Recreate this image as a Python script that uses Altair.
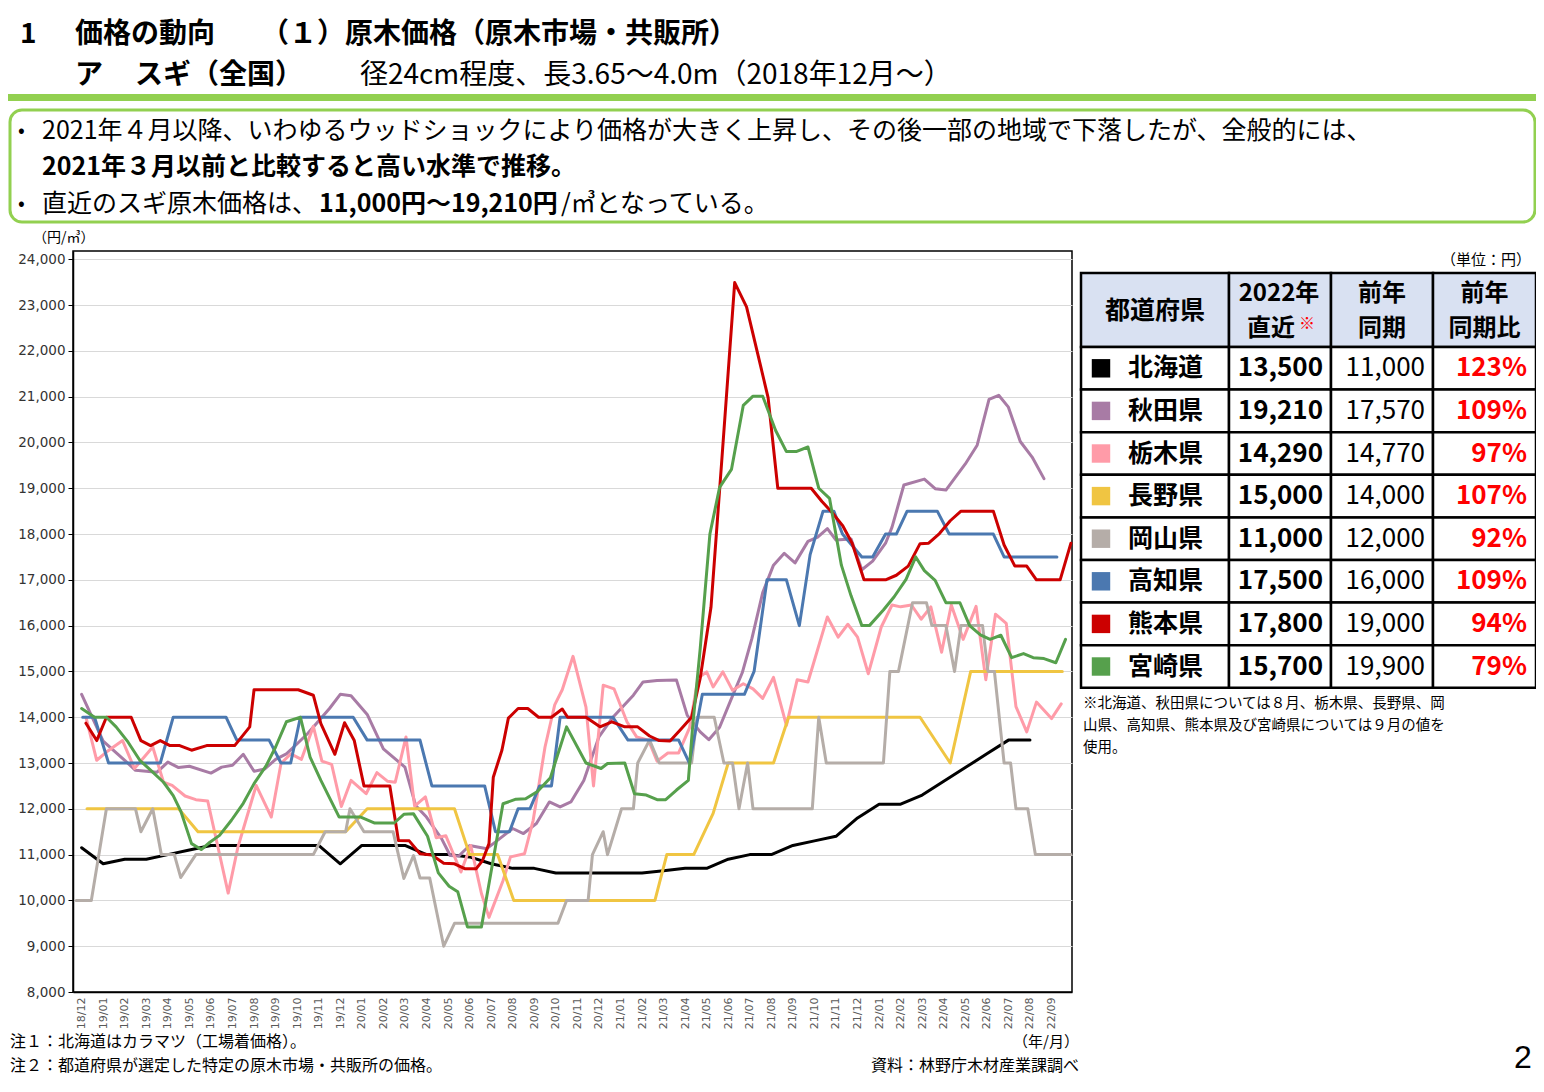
import altair as alt
import pandas as pd

JP = "Noto Sans CJK JP"
NUMF = "DejaVu Sans"

# ---------------- data ----------------
PREFS = ["北海道", "秋田県", "栃木県", "長野県", "岡山県", "高知県", "熊本県", "宮崎県"]
COLORS = ["#000000", "#A87BA5", "#FF9BA8", "#F0C542", "#B5ADA8", "#4B78B0", "#CC0000", "#56A04C"]

MONTH_LABELS = [
    "18/12",
    "19/01", "19/02", "19/03", "19/04", "19/05", "19/06", "19/07", "19/08", "19/09", "19/10", "19/11", "19/12",
    "20/01", "20/02", "20/03", "20/04", "20/05", "20/06", "20/07", "20/08", "20/09", "20/10", "20/11", "20/12",
    "21/01", "21/02", "21/03", "21/04", "21/05", "21/06", "21/07", "21/08", "21/09", "21/10", "21/11", "21/12",
    "22/01", "22/02", "22/03", "22/04", "22/05", "22/06", "22/07", "22/08", "22/09",
]

# t = months since 2018/12 (0 = 18/12)
HOKKAIDO_T = list(range(45))
HOKKAIDO_V = [11150, 10800, 10900, 10900, 11000, 11100, 11200, 11200, 11200, 11200, 11200, 11200, 10800,
              11200, 11200, 11200, 11000, 11000, 10950, 10800, 10700, 10700, 10600, 10600, 10600, 10600,
              10600, 10650, 10700, 10700, 10900, 11000, 11000, 11200, 11300, 11400, 11800, 12100, 12100,
              12300, 12600, 12900, 13200, 13500, 13500]

AKITA_T = [0, 1, 2, 2.5, 3.5, 4, 4.5, 5, 6, 6.5, 7, 7.5, 8, 8.5, 9, 9.5, 10, 10.5, 11.5, 12,
           12.5, 13.25, 14, 15, 15.5, 16, 16.7, 17.1, 17.5, 18, 18.8, 19.4, 20, 20.5, 21.1, 21.7, 22.2, 22.7, 23.3, 24,
           24.65, 25.6, 26.05, 26.7, 27.6, 28.1, 28.7, 29.1, 29.6, 30.1, 30.65, 31.1, 31.6, 32.1, 32.6, 33.1, 33.7,
           34.15, 34.6, 35, 35.7, 36.2, 36.7, 37.3, 37.6, 38.15, 39.1, 39.6, 40.1, 41, 41.55, 42.1, 42.55, 43,
           43.55, 44.1, 44.65]
AKITA_V = [14500, 13480, 13060, 12840, 12800, 13020, 12900, 12930, 12780, 12910, 12950, 13190, 12820, 12870,
           13080, 13200, 13420, 13650, 14190, 14500, 14470, 14060, 13310, 12910, 12070, 11820, 11350, 10980,
           10970, 11200, 11130, 11350, 11570, 11460, 11680, 12150, 12040, 12150, 12620, 13570, 14000, 14480,
           14770, 14800, 14810, 14040, 13680, 13510, 13780, 14350, 14970, 15720, 16720, 17320, 17580, 17370,
           17840, 17930, 18120, 17870, 17890, 17220, 17410, 17800, 18150, 19070, 19200, 18990, 18960, 19530,
           19940, 20940, 21030, 20770, 20020, 19680, 19210]

TOCHIGI_T = [0.2, 0.7, 1.15, 1.9, 2.45, 3.3, 3.8, 4.2, 4.8, 5.3, 5.85, 6.8, 7.25, 8.1, 8.8, 9.25, 9.7, 10.2,
             10.75, 11.15, 11.6, 12.05, 12.5, 13.2, 13.7, 14.2, 14.55, 15.05, 15.45, 15.95, 16.45, 16.9, 17.6,
             18.05, 18.55, 18.9, 19.55, 19.9, 20.55, 20.95, 21.5, 21.95, 22.3, 22.8, 23.4, 23.75, 24.2, 24.7,
             25.3, 25.75, 26.3, 26.7, 27.2, 27.7, 28.2, 28.6, 29, 29.3, 29.75, 30.2, 30.7, 31.15, 31.6, 32.1,
             32.7, 33.2, 33.7, 34.6, 35.1, 35.55, 36, 36.5, 37.1, 37.6, 38, 38.5, 38.95, 39.4, 39.9, 40.35,
             40.9, 41.5, 41.95, 42.4, 42.9, 43.35, 43.85, 44.3, 45, 45.45]
TOCHIGI_V = [14000, 13060, 13240, 13490, 12880, 13350, 12580, 12510, 12280, 12200, 12170, 10160, 11160, 12510,
             11820, 12990, 13200, 13080, 13800, 13040, 12970, 12050, 12620, 12330, 12790, 12600, 12580, 13570,
             12060, 12260, 11370, 11410, 10620, 11200, 10150, 9630, 10430, 10950, 11020, 11750, 13350, 14270,
             14600, 15330, 14220, 12500, 14700, 14620, 13900, 13570, 13500, 13040, 13220, 13220, 13760, 14850,
             14990, 14660, 14990, 14590, 14730, 14620, 14410, 14870, 13820, 14820, 14770, 16190, 15750, 16030,
             15750, 14950, 15970, 16450, 16410, 16450, 16140, 16410, 15420, 16450, 15700, 16420, 14820, 16250,
             16050, 14230, 13680, 14330, 13970, 14290]

NAGANO_T = [0.25, 4.5, 5.4, 12.25, 13.25, 17.3, 18, 19.3, 20.05, 26.6, 27.15, 28.4, 29.3, 30, 32.1, 32.8,
            38.9, 40.3, 41.25, 45.5]
NAGANO_V = [12000, 12000, 11500, 11500, 12000, 12000, 11000, 11000, 10000, 10000, 11000, 11000, 11900, 13000,
            13000, 14000, 14000, 13000, 15000, 15000]

OKAYAMA_T = [-0.25, 0.45, 1.15, 2.5, 2.75, 3.3, 3.7, 4.3, 4.6, 5.3, 10.75, 11.3, 12.25, 12.45, 13.1, 14.45,
             14.95, 15.4, 15.7, 16.15, 16.8, 17.3, 22.1, 22.5, 23.5, 23.7, 24.2, 24.4, 25.05, 25.6, 25.8, 26.35,
             26.8, 28.3, 28.55, 29.35, 29.8, 30.2, 30.5, 30.9, 31.15, 33.9, 34.2, 34.55, 37.2, 37.5, 37.9, 38.55,
             39.2, 39.45, 40.1, 40.5, 40.8, 41.8, 42.05, 42.35, 42.8, 43.1, 43.35, 43.9, 44.25, 45.9]
OKAYAMA_V = [10000, 10000, 12000, 12000, 11500, 12000, 11000, 11000, 10500, 11000, 11000, 11500, 11500, 12000,
             11500, 11500, 10480, 10980, 10490, 10490, 9000, 9500, 9500, 10000, 10000, 11000, 11500, 11000,
             12000, 12000, 13000, 13500, 13000, 13000, 14000, 14000, 13000, 13000, 12000, 13000, 12000, 12000,
             14000, 13000, 13000, 15000, 15000, 16500, 16500, 16000, 16000, 15000, 16000, 16000, 15000, 15000,
             13000, 13000, 12000, 12000, 11000, 11000]

KOCHI_T = [0.05, 0.6, 1.25, 3.65, 4.25, 6.7, 7.2, 8.7, 9.25, 9.7, 10.15, 12.6, 13.25, 15.7, 16.25, 18.7, 19.2,
           19.85, 20.25, 20.8, 21.25, 21.8, 22.2, 24.65, 25.35, 27.7, 28.2, 28.8, 30.75, 31.2, 31.8, 32.7, 33.3,
           33.8, 34.4, 34.9, 35.3, 36.2, 36.7, 37.3, 37.8, 38.3, 39.7, 40.25, 42.3, 42.8, 45.25]
KOCHI_V = [14000, 14000, 13000, 13000, 14000, 14000, 13500, 13500, 13000, 13000, 14000, 14000, 13500, 13500,
           12500, 12500, 11500, 11500, 12000, 12000, 12500, 12500, 14000, 14000, 13500, 13500, 13000, 14500,
           14500, 15000, 17000, 17000, 16000, 17550, 18500, 18500, 18000, 17500, 17500, 18000, 18000, 18500,
           18500, 18000, 18000, 17500, 17500]

KUMAMOTO_T = [0.2, 0.7, 1.15, 2.3, 2.75, 3.2, 3.65, 4.1, 4.55, 5.1, 5.8, 7.1, 7.8, 8, 10.05, 10.75, 11.1, 11.75,
              12.2, 12.65, 13.1, 14.3, 14.7, 15.2, 15.7, 16.25, 16.8, 17.3, 17.8, 18.3, 18.6, 18.9, 19.1, 19.5,
              19.8, 20.25, 20.7, 21.2, 21.8, 22.3, 22.55, 23.4, 24.05, 24.6, 25.2, 25.8, 26.35, 26.8, 27.3, 27.75,
              28.3, 28.7, 29.2, 29.7, 30.3, 30.85, 31.35, 31.85, 32.3, 33.85, 34.35, 34.8, 35.3, 35.75, 36.3,
              37.3, 37.8, 38.35, 38.9, 39.3, 39.8, 40.3, 40.8, 42.3, 42.8, 43.3, 43.85, 44.3, 45.4, 45.9]
KUMAMOTO_V = [13870, 13490, 14000, 14000, 13490, 13380, 13490, 13380, 13380, 13280, 13380, 13380, 13790, 14600,
              14600, 14480, 13860, 13190, 13880, 13490, 12500, 12500, 11310, 11300, 11020, 10990, 10810, 10800,
              10690, 10690, 10870, 11240, 12690, 13280, 13980, 14190, 14190, 14000, 14000, 14180, 14000, 14000,
              13790, 13900, 13790, 13790, 13590, 13490, 13480, 13710, 14000, 14850, 16400, 19600, 23490, 22960,
              21970, 20980, 19000, 19000, 18710, 18480, 18190, 17800, 17000, 17000, 17100, 17300, 17790, 17800,
              18010, 18290, 18500, 18500, 17760, 17300, 17300, 17000, 17000, 17800]

MIYAZAKI_T = [0, 0.6, 1.15, 1.6, 2.15, 2.7, 3.3, 3.8, 4.25, 4.6, 5.1, 5.55, 5.95, 6.4, 6.95, 7.5, 8, 8.55, 9, 9.5,
              10.15, 10.6, 11.1, 11.95, 12.95, 13.6, 14.5, 14.95, 15.4, 16.05, 16.55, 17.05, 17.45, 17.9, 18.55,
              19.55, 20.15, 20.6, 21.15, 21.75, 22.5, 23.4, 24.1, 24.4, 25.2, 25.65, 26.2, 26.7, 27.1, 27.6,
              28.15, 28.35, 28.7, 29.15, 29.6, 30.15, 30.7, 31.15, 31.6, 32.2, 32.7, 33.15, 33.7, 34.2, 34.7,
              35.25, 35.7, 36.2, 36.55, 37.2, 37.7, 38.25, 38.7, 39.1, 39.6, 40.1, 40.75, 41.2, 41.7, 42.15,
              42.65, 43.15, 43.7, 44.15, 44.65, 45.2, 45.65]
MIYAZAKI_V = [14190, 14000, 14000, 13790, 13460, 13060, 12800, 12580, 12290, 11950, 11240, 11110, 11270, 11420,
              11750, 12120, 12550, 12930, 13350, 13900, 14000, 13130, 12620, 11820, 11820, 11690, 11690, 11880,
              11890, 11400, 10600, 10310, 10190, 9420, 9420, 12110, 12210, 12220, 12380, 12680, 13790, 13000,
              12880, 12990, 13000, 12330, 12300, 12200, 12200, 12410, 12620, 13800, 15500, 18000, 19020, 19410,
              20810, 21010, 21010, 20260, 19800, 19800, 19900, 19000, 18780, 17320, 16650, 16000, 16000, 16340,
              16630, 17010, 17500, 17200, 16990, 16500, 16500, 16000, 15800, 15700, 15790, 15300, 15390, 15300,
              15280, 15190, 15700]

# table values
LATEST = [13500, 19210, 14290, 15000, 11000, 17500, 17800, 15700]
PREV = [11000, 17570, 14770, 14000, 12000, 16000, 19000, 19900]
RATIO = [123, 109, 97, 107, 92, 109, 94, 79]

SERIES = [
    (PREFS[0], HOKKAIDO_T, HOKKAIDO_V),
    (PREFS[1], AKITA_T, AKITA_V),
    (PREFS[2], TOCHIGI_T, TOCHIGI_V),
    (PREFS[3], NAGANO_T, NAGANO_V),
    (PREFS[4], OKAYAMA_T, OKAYAMA_V),
    (PREFS[5], KOCHI_T, KOCHI_V),
    (PREFS[6], KUMAMOTO_T, KUMAMOTO_V),
    (PREFS[7], MIYAZAKI_T, MIYAZAKI_V),
]

rows = []
for name, ts, vs in SERIES:
    for t, v in zip(ts, vs):
        rows.append({"pref": name, "t": t, "v": v})
df = pd.DataFrame(rows)

ONE = pd.DataFrame({"a": [0]})
COLOR_SCALE = alt.Scale(domain=PREFS, range=COLORS)

label_expr = "[" + ",".join("'" + m + "'" for m in MONTH_LABELS) + "][datum.value]"

lines = alt.Chart(df).mark_line(strokeWidth=3, strokeJoin="round", strokeCap="round").encode(
    x=alt.X("t:Q", scale=alt.Scale(domain=[-0.4, 45.95], nice=False, zero=False),
            axis=alt.Axis(values=list(range(len(MONTH_LABELS))), labelExpr=label_expr, labelAngle=270,
                          labelFont=NUMF, labelFontSize=11, labelColor="#595959", ticks=False, grid=False,
                          domainColor="#000000", domainWidth=1.5, title=None, labelOverlap=False,
                          labelPadding=5)),
    y=alt.Y("v:Q", scale=alt.Scale(domain=[8000, 24180], nice=False, zero=False),
            axis=alt.Axis(values=list(range(8000, 24001, 1000)), format=",d", title=None, grid=True,
                          gridColor="#D9D9D9", gridWidth=1, tickSize=5, tickColor="#000000",
                          domainColor="#000000", domainWidth=1.5, labelFont=NUMF, labelFontSize=13.5,
                          labelColor="#333333", labelPadding=3)),
    color=alt.Color("pref:N", scale=COLOR_SCALE, legend=None),
    detail="pref:N",
)


def txt(s, x, y, size, bold=False, color="#000000", align="left", font=JP):
    return alt.Chart(ONE).mark_text(
        text=s, align=align, baseline="middle", fontSize=size,
        fontWeight="bold" if bold else "normal", color=color, font=font,
    ).encode(x=alt.value(x), y=alt.value(y))


# ---- page decorations (relative to plot origin at page (73, 251)) ----
green_bar = alt.Chart(ONE).mark_rect(color="#92D050").encode(
    x=alt.value(-65), x2=alt.value(1463), y=alt.value(-157), y2=alt.value(-150))
box = alt.Chart(ONE).mark_rect(cornerRadius=12, fill="white", stroke="#92D050", strokeWidth=3).encode(
    x=alt.value(-63), x2=alt.value(1462), y=alt.value(-141), y2=alt.value(-29))

texts = [
    txt("1", -53, -216, 28, bold=True),
    txt("価格の動向", 2, -216, 28, bold=True),
    txt("（１）原木価格（原木市場・共販所）", 188, -216, 28, bold=True),
    txt("ア", 2, -175, 28, bold=True),
    txt("スギ（全国）", 62, -175, 28, bold=True),
    txt("径24cm程度、長3.65～4.0m（2018年12月～）", 287, -175, 28),
    txt("•", -55, -120.5, 20),
    txt("2021年４月以降、いわゆるウッドショックにより価格が大きく上昇し、その後一部の地域で下落したが、全般的には、", -31, -120.5, 25),
    txt("2021年３月以前と比較すると高い水準で推移。", -31, -84, 25, bold=True),
    txt("•", -55, -47.5, 20),
    txt("直近のスギ原木価格は、", -31, -47.5, 25),
    txt("11,000円～19,210円", 246, -47.5, 25, bold=True),
    txt("/㎥となっている。", 488, -47.5, 25),
    txt("（円/㎥）", -40, -13, 14),
    txt("注１：北海道はカラマツ（工場着価格）。", -63, 791, 16),
    txt("注２：都道府県が選定した特定の原木市場・共販所の価格。", -63, 815, 16),
    txt("（年/月）", 1006, 791, 15, align="right"),
    txt("資料：林野庁木材産業課調べ", 1006, 815, 16, align="right"),
    txt("2", 1450, 807, 32, align="center", font="Liberation Sans"),
    txt("（単位：円）", 1458, 9, 15, align="right"),
    txt("※北海道、秋田県については８月、栃木県、長野県、岡", 1010, 453, 14.5),
    txt("山県、高知県、熊本県及び宮崎県については９月の値を", 1010, 475, 14.5),
    txt("使用。", 1010, 497, 14.5),
]

# ---- table ----
COL_EDGES = [0, 148, 250, 352, 455]
HEAD_H = 74
ROW_H = 42.6
TX = alt.Scale(domain=[0, 455], range=[1008, 1463])
TY = alt.Scale(domain=[0, 415], range=[22, 437])

cells = []
for c in range(4):
    cells.append({"x0": COL_EDGES[c], "x1": COL_EDGES[c + 1], "y0": 0, "y1": HEAD_H, "kind": "head"})
    for r in range(len(PREFS)):
        cells.append({"x0": COL_EDGES[c], "x1": COL_EDGES[c + 1], "y0": HEAD_H + r * ROW_H,
                      "y1": HEAD_H + (r + 1) * ROW_H, "kind": "body"})
cells = pd.DataFrame(cells)

cell_layer = alt.Chart(cells).mark_rect(stroke="#000000", strokeWidth=2.5).encode(
    x=alt.X("x0:Q", scale=TX, axis=None), x2="x1:Q",
    y=alt.Y("y0:Q", scale=TY, axis=None), y2="y1:Q",
    fill=alt.Fill("kind:N", scale=alt.Scale(domain=["head", "body"], range=["#D9E1F2", "#FFFFFF"]), legend=None),
)

tab = pd.DataFrame({"pref": PREFS, "latest": LATEST, "prev": PREV, "ratio": RATIO})
tab["yc"] = HEAD_H + ROW_H * (tab.index + 0.5)
tab["latest_s"] = tab["latest"].map(lambda v: f"{v:,}")
tab["prev_s"] = tab["prev"].map(lambda v: f"{v:,}")
tab["ratio_s"] = tab["ratio"].map(lambda v: f"{v}%")
tab["sx"] = 20
tab["nx"] = 47
tab["lx"] = 242
tab["px"] = 344
tab["rx"] = 446

base_tab = alt.Chart(tab)
swatch = base_tab.mark_square(size=340, opacity=1).encode(
    x=alt.X("sx:Q", scale=TX, axis=None), y=alt.Y("yc:Q", scale=TY, axis=None),
    color=alt.Color("pref:N", scale=COLOR_SCALE, legend=None))
names = base_tab.mark_text(align="left", baseline="middle", fontSize=25, fontWeight="bold", font=JP).encode(
    x=alt.X("nx:Q", scale=TX, axis=None), y=alt.Y("yc:Q", scale=TY, axis=None), text="pref:N")
latest = base_tab.mark_text(align="right", baseline="middle", fontSize=26, fontWeight="bold", font=JP).encode(
    x=alt.X("lx:Q", scale=TX, axis=None), y=alt.Y("yc:Q", scale=TY, axis=None), text="latest_s:N")
prev = base_tab.mark_text(align="right", baseline="middle", fontSize=26, font=JP).encode(
    x=alt.X("px:Q", scale=TX, axis=None), y=alt.Y("yc:Q", scale=TY, axis=None), text="prev_s:N")
ratio = base_tab.mark_text(align="right", baseline="middle", fontSize=26, fontWeight="bold", font=JP,
                           color="#FF0000").encode(
    x=alt.X("rx:Q", scale=TX, axis=None), y=alt.Y("yc:Q", scale=TY, axis=None), text="ratio_s:N")

head = pd.DataFrame({
    "label": ["都道府県", "2022年", "直近", "※", "前年", "同期", "前年", "同期比"],
    "hx": [74, 198, 190, 226, 301, 301, 403.5, 403.5],
    "hy": [38, 20.5, 55.5, 51, 20.5, 55.5, 20.5, 55.5],
    "size": [25, 24, 24, 16, 24, 24, 24, 24],
    "col": ["k", "k", "k", "r", "k", "k", "k", "k"],
})
head_layer = alt.Chart(head).mark_text(align="center", baseline="middle", fontWeight="bold", font=JP).encode(
    x=alt.X("hx:Q", scale=TX, axis=None), y=alt.Y("hy:Q", scale=TY, axis=None), text="label:N",
    size=alt.Size("size:Q", scale=None, legend=None),
    fill=alt.Fill("col:N", scale=alt.Scale(domain=["k", "r"], range=["#000000", "#FF0000"]), legend=None),
)

chart = alt.layer(
    green_bar, box, *texts, lines, cell_layer, swatch, names, latest, prev, ratio, head_layer
).resolve_scale(
    x="independent", y="independent", fill="independent"
).properties(
    width=999, height=741,
    padding={"left": 65, "top": 243, "right": 464, "bottom": 92},
    autosize=alt.AutoSizeParams(type="none"),
    background="white",
).configure_view(stroke="#000000", strokeWidth=1.5)

chart.save("out.html", embed_options={"renderer": "svg", "actions": False})
